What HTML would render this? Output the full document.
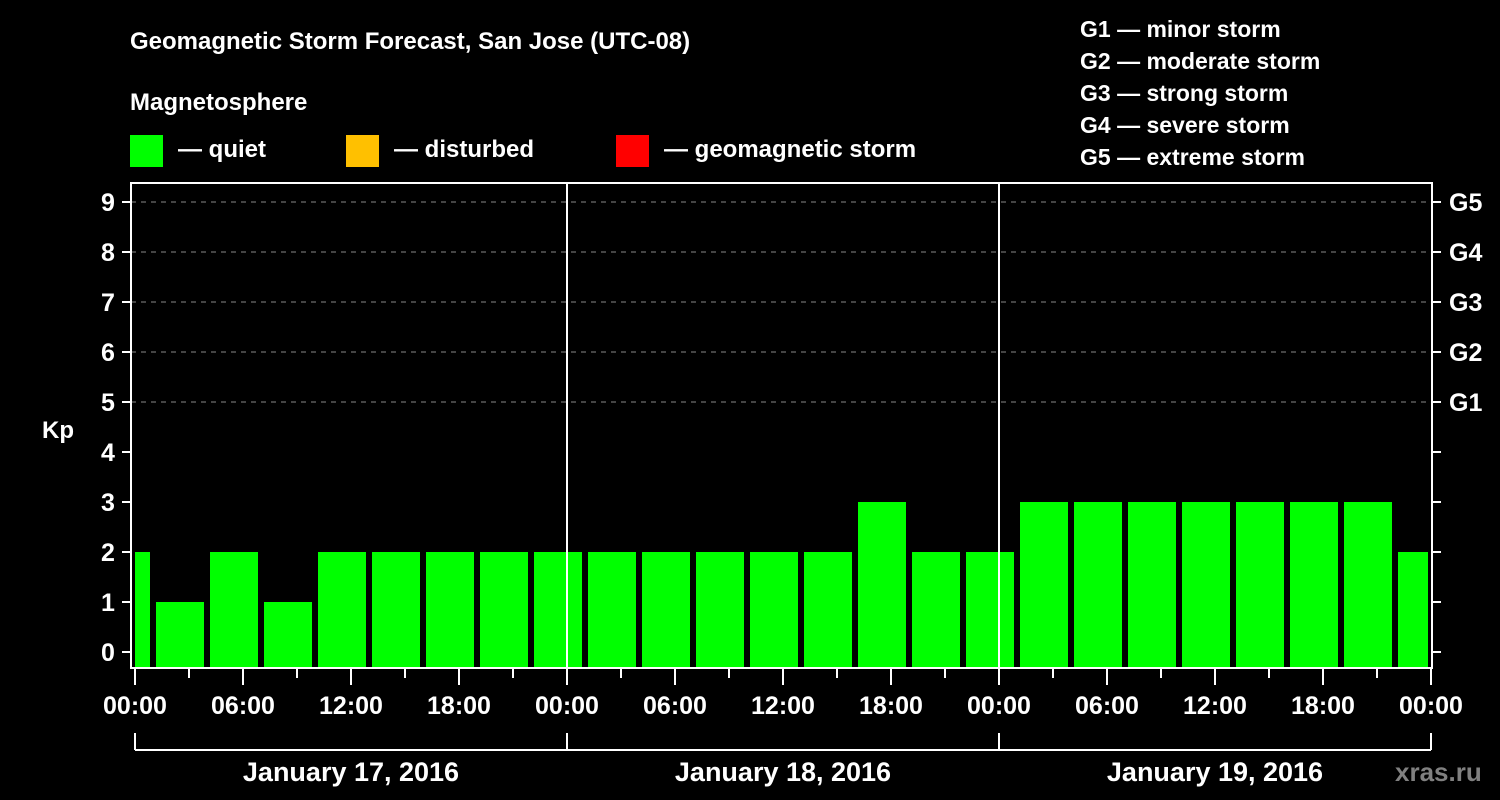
<!DOCTYPE html>
<html><head><meta charset="utf-8"><style>
html,body{margin:0;padding:0;background:#000;}
svg{display:block;font-family:"Liberation Sans",Arial,sans-serif;font-weight:bold;}
</style></head><body>
<svg id="chart" width="1500" height="800" viewBox="0 0 1500 800" xmlns="http://www.w3.org/2000/svg">
<rect width="1500" height="800" fill="#000"/>
<text x="130" y="49" fill="#fff" font-size="24">Geomagnetic Storm Forecast, San Jose (UTC-08)</text>
<text x="130" y="110" fill="#fff" font-size="24">Magnetosphere</text>
<g><rect x="130" y="135" width="33" height="32" fill="#00ff00"/><text x="178" y="157" fill="#fff" font-size="24">— quiet</text></g>
<g><rect x="346" y="135" width="33" height="32" fill="#ffc000"/><text x="394" y="157" fill="#fff" font-size="24">— disturbed</text></g>
<g><rect x="616" y="135" width="33" height="32" fill="#ff0000"/><text x="664" y="157" fill="#fff" font-size="24">— geomagnetic storm</text></g>
<g fill="#fff" font-size="23">
<text x="1080" y="37">G1 — minor storm</text>
<text x="1080" y="69">G2 — moderate storm</text>
<text x="1080" y="101">G3 — strong storm</text>
<text x="1080" y="133">G4 — severe storm</text>
<text x="1080" y="165">G5 — extreme storm</text>
</g>
<text x="42" y="438" fill="#fff" font-size="24">Kp</text>
<g id="grid"></g>
<g id="bars"></g>
<g id="axes"></g>
<text x="1395" y="781" fill="#808080" font-size="26">xras.ru</text>
</svg>
<script>
const kpValues = [2,1,2,1,2,2,2,2,2, 2,2,2,2,2,3,2,2, 3,3,3,3,3,3,3,2];
const barStartHours = -2; // first bar starts at -2h local, each bar spans 3h
const xTickLabels = ["00:00","06:00","12:00","18:00","00:00","06:00","12:00","18:00","00:00","06:00","12:00","18:00","00:00"];
const yTickLabels = ["0","1","2","3","4","5","6","7","8","9"];
const gLabels = ["G1","G2","G3","G4","G5"];
const dayLabels = ["January 17, 2016","January 18, 2016","January 19, 2016"];

const NS="http://www.w3.org/2000/svg";
const X0=135, PXH=18, TOTAL=72, Y0=652, PXK=50, TOP=183, BOT=668, LEFT=131, RIGHT=1432;
const x = h => X0 + PXH*Math.max(0,Math.min(TOTAL,h));
const y = k => Y0 - PXK*k;
function mk(tag, attrs, parent){const e=document.createElementNS(NS,tag);for(const k in attrs)e.setAttribute(k,attrs[k]);parent.appendChild(e);return e;}
const grid=document.getElementById('grid'), bars=document.getElementById('bars'), axes=document.getElementById('axes');

for(let k=5;k<=9;k++){
  const l=mk('line',{x1:LEFT,x2:RIGHT,y1:y(k),y2:y(k),stroke:'#888','stroke-width':1,'stroke-dasharray':'5,5'},grid);
  
  
}
kpValues.forEach((v,i)=>{
  const hs=barStartHours+3*i, he=hs+3;
  let x1 = hs<=0 ? x(0) : x(hs)+3;
  let x2 = he>=TOTAL ? x(TOTAL)-3 : x(he)-3;
  const c = v>=5 ? '#ff0000' : (v>=4 ? '#ffc000' : '#00ff00');
  const r=mk('rect',{x:x1,y:y(v),width:x2-x1,height:BOT-y(v),fill:c},bars);
  
  
});
// frame
const fr=mk('rect',{x:LEFT,y:TOP,width:RIGHT-LEFT,height:BOT-TOP,fill:'none',stroke:'#fff','stroke-width':2},axes);


for(let d=1;d<3;d++){
  const l=mk('line',{x1:x(24*d),x2:x(24*d),y1:TOP,y2:BOT,stroke:'#fff','stroke-width':2},axes);
  
  
}
yTickLabels.forEach((t,k)=>{
  mk('line',{x1:LEFT-9,x2:LEFT,y1:y(k),y2:y(k),stroke:'#fff','stroke-width':2},axes);
  mk('line',{x1:RIGHT,x2:RIGHT+9,y1:y(k),y2:y(k),stroke:'#fff','stroke-width':2},axes);
  const tx=mk('text',{x:108,y:y(k)+9,fill:'#fff','font-size':25,'text-anchor':'middle'},axes);
  tx.textContent=t;
  
  
});
gLabels.forEach((g,i)=>{
  const tx=mk('text',{x:1449,y:y(5+i)+9,fill:'#fff','font-size':25},axes);
  tx.textContent=g;
  
  
});
for(let h=0;h<=TOTAL;h+=3){
  const len = h%6===0 ? 17 : 10;
  mk('line',{x1:x(h),x2:x(h),y1:BOT,y2:BOT+len,stroke:'#fff','stroke-width':2},axes);
}
xTickLabels.forEach((t,i)=>{
  const tx=mk('text',{x:x(i*6),y:714,fill:'#fff','font-size':25,'text-anchor':'middle'},axes);
  tx.textContent=t;
  
  
});
mk('line',{x1:x(0),x2:x(TOTAL),y1:750,y2:750,stroke:'#fff','stroke-width':2},axes);
for(let d=0;d<=3;d++) mk('line',{x1:x(24*d),x2:x(24*d),y1:733,y2:750,stroke:'#fff','stroke-width':2},axes);
dayLabels.forEach((t,d)=>{
  const tx=mk('text',{x:x(24*d+12),y:781,fill:'#fff','font-size':27,'text-anchor':'middle'},axes);
  tx.textContent=t;
  
  
});
</script>
</body></html>
